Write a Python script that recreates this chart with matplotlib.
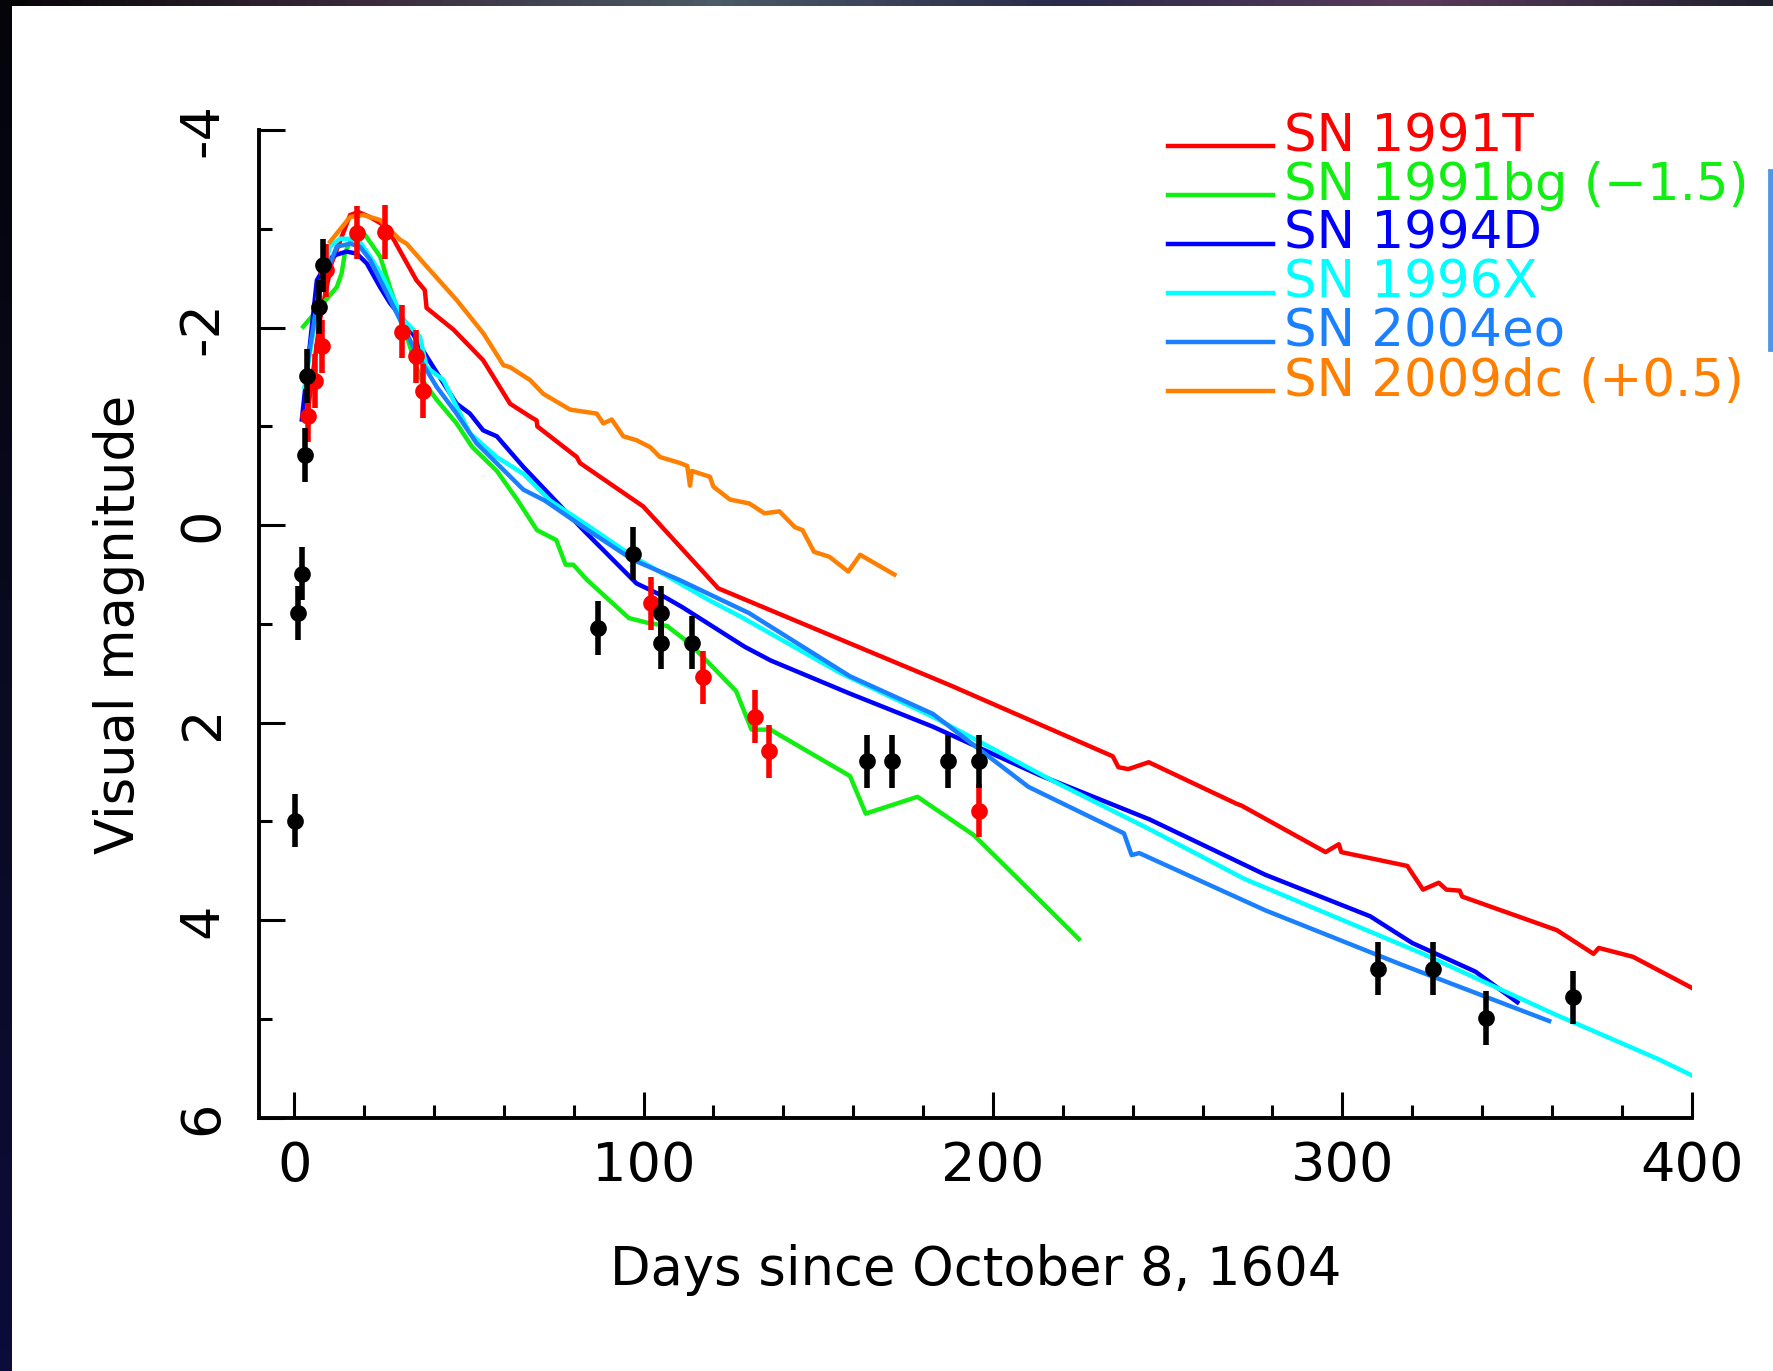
import matplotlib

matplotlib.use("Agg")
import matplotlib.pyplot as plt
import numpy as np
from matplotlib.legend_handler import HandlerLine2D
from matplotlib.patches import Rectangle
from matplotlib.ticker import MultipleLocator

plt.rcParams["axes.unicode_minus"] = False

# template light curves (days since Oct 8 1604, visual magnitude)
sn1991t_day = [3.6, 7.4, 10.7, 16.0, 18.4, 21.7, 26.5, 31.2, 35.0, 37.4, 37.9, 45.6, 54.1,
               61.8, 67.5, 69.4, 69.6, 80.9, 81.8, 99.9, 121.4, 187.7, 234.3, 235.9, 238.7,
               244.6, 269.7, 271.2, 295.2, 299.0, 299.7, 318.6, 323.1, 327.6, 329.8, 333.6,
               334.3, 361.4, 371.9, 373.4, 383.2, 399.8]
sn1991t_mag = [-1.07, -2.08, -2.65, -3.14, -3.17, -3.12, -3.02, -2.72, -2.48, -2.38, -2.20,
               -1.98, -1.67, -1.23, -1.10, -1.06, -1.00, -0.69, -0.63, -0.19, 0.64, 1.62, 2.34,
               2.45, 2.47, 2.40, 2.82, 2.84, 3.31, 3.23, 3.31, 3.45, 3.69, 3.62, 3.69, 3.70,
               3.76, 4.10, 4.34, 4.28, 4.37, 4.68]

sn1991bg_day = [2.6, 7.4, 12.2, 13.6, 14.5, 16.0, 18.8, 20.3, 24.6, 27.4, 31.3, 36.0, 40.8,
                46.5, 51.0, 58.0, 64.0, 69.5, 75.0, 77.7, 79.9, 83.7, 95.8, 101.3, 106.7,
                113.3, 126.5, 130.9, 136.3, 159.1, 163.6, 178.4, 194.6, 224.6]
sn1991bg_mag = [-2.01, -2.21, -2.41, -2.55, -2.75, -2.87, -2.96, -2.94, -2.72, -2.41, -2.01,
                -1.50, -1.27, -1.03, -0.79, -0.55, -0.25, 0.05, 0.15, 0.40, 0.40, 0.55, 0.94,
                0.99, 1.02, 1.20, 1.68, 2.07, 2.07, 2.54, 2.92, 2.75, 3.14, 4.19]

sn1994d_day = [2.2, 6.5, 10.2, 12.2, 15.0, 17.9, 20.8, 24.6, 27.4, 32.2, 37.9, 42.7, 46.5,
               50.3, 54.1, 58.0, 65.6, 82.8, 98.0, 105.7, 111.1, 128.9, 136.4, 158.7, 182.8,
               213.3, 244.9, 278.0, 308.0, 320.0, 338.1, 350.1]
sn1994d_mag = [-1.07, -2.48, -2.70, -2.74, -2.77, -2.75, -2.65, -2.41, -2.25, -2.04, -1.71,
               -1.44, -1.23, -1.13, -0.96, -0.90, -0.59, 0.05, 0.59, 0.72, 0.83, 1.23, 1.37,
               1.70, 2.04, 2.53, 2.98, 3.54, 3.96, 4.23, 4.52, 4.83]

sn1996x_day = [3.0, 7.0, 10.2, 13.1, 16.0, 18.8, 21.7, 25.5, 31.2, 36.0, 37.9, 42.7, 46.5,
               50.3, 58.0, 65.6, 73.2, 84.7, 97.1, 118.8, 128.0, 156.5, 182.8, 217.8, 244.9,
               271.9, 323.1, 360.7, 390.7, 400.0]
sn1996x_mag = [-1.40, -2.30, -2.82, -2.90, -2.90, -2.87, -2.72, -2.51, -2.08, -1.91, -1.60,
               -1.47, -1.20, -0.93, -0.69, -0.52, -0.25, 0.02, 0.32, 0.76, 0.93, 1.50, 1.94,
               2.60, 3.08, 3.58, 4.34, 4.95, 5.41, 5.57]

sn2004eo_day = [3.1, 7.0, 12.2, 16.0, 18.8, 21.7, 26.5, 30.3, 35.0, 40.8, 46.5, 52.2, 59.9,
                65.6, 71.7, 82.8, 96.9, 110.0, 130.2, 159.1, 182.8, 210.2, 237.5, 239.7,
                241.9, 278.0, 317.0, 359.2]
sn2004eo_mag = [-1.47, -2.35, -2.82, -2.85, -2.82, -2.69, -2.35, -2.08, -1.74, -1.40, -1.13,
                -0.83, -0.56, -0.36, -0.25, 0.02, 0.35, 0.55, 0.89, 1.53, 1.91, 2.65, 3.12,
                3.34, 3.32, 3.90, 4.45, 5.02]

sn2009dc_day = [10.3, 16.0, 19.8, 24.6, 30.3, 32.2, 37.9, 46.5, 54.2, 59.9, 61.8, 67.5, 71.3,
                79.0, 86.6, 88.5, 90.9, 94.2, 98.0, 101.9, 104.7, 110.4, 112.5, 113.3, 113.8,
                119.0, 120.0, 124.7, 130.3, 134.6, 138.9, 143.3, 145.5, 148.8, 153.2, 158.6,
                162.0, 171.8]
sn2009dc_mag = [-2.87, -3.12, -3.14, -3.09, -2.89, -2.85, -2.62, -2.28, -1.94, -1.62, -1.60,
                -1.47, -1.33, -1.17, -1.13, -1.03, -1.07, -0.90, -0.86, -0.79, -0.69, -0.63,
                -0.60, -0.40, -0.55, -0.49, -0.39, -0.26, -0.22, -0.12, -0.14, 0.02, 0.05,
                0.27, 0.32, 0.47, 0.30, 0.50]

# historical observations of Kepler's supernova
black_day = [0.2, 1.1, 2.2, 3.1, 3.6, 7.2, 8.4, 87.0, 96.9, 104.9, 104.9, 114.0, 163.9,
             171.0, 187.1, 196.1, 310.1, 326.0, 341.1, 366.1]
black_mag = [2.99, 0.89, 0.49, -0.71, -1.51, -2.21, -2.63, 1.04, 0.29, 0.89, 1.19, 1.19,
             2.39, 2.39, 2.39, 2.39, 4.49, 4.49, 4.99, 4.78]
red_day = [4.0, 6.1, 8.0, 9.1, 18.1, 26.1, 31.0, 35.0, 36.9, 102.1, 116.9, 131.9, 136.0, 196.1]
red_mag = [-1.11, -1.46, -1.81, -2.58, -2.96, -2.97, -1.96, -1.71, -1.36, 0.79, 1.54, 1.94,
           2.29, 2.89]
mag_err = 0.27

curves = [
    (sn1991t_day, sn1991t_mag, "#ff0000", "SN 1991T"),
    (sn1991bg_day, sn1991bg_mag, "#11ee11", "SN 1991bg (\u22121.5)"),
    (sn1994d_day, sn1994d_mag, "#0000ff", "SN 1994D"),
    (sn1996x_day, sn1996x_mag, "#00ffff", "SN 1996X"),
    (sn2004eo_day, sn2004eo_mag, "#1a80ff", "SN 2004eo"),
    (sn2009dc_day, sn2009dc_mag, "#ff8000", "SN 2009dc (+0.5)"),
]


class BaselineLine(HandlerLine2D):
    """Legend line drawn at the text baseline instead of mid-height."""

    def create_artists(self, legend, orig_handle, xdescent, ydescent, width, height,
                       fontsize, trans):
        return super().create_artists(legend, orig_handle, xdescent,
                                      ydescent + 0.5 * fontsize, width, height,
                                      fontsize, trans)


W, H = 1774, 1371
fig = plt.figure(figsize=(W / 200, H / 200), dpi=200)
fig.patch.set_facecolor("white")

# screenshot frame bits (dark slide border)
left_band = fig.add_axes([0, 0, 12 / W, 1])
left_band.imshow(np.linspace(0, 1, 64).reshape(-1, 1), aspect="auto",
                 cmap=matplotlib.colors.LinearSegmentedColormap.from_list(
                     "lb", ["#04040a", "#0a0a22", "#0c0c3a"]), extent=[0, 1, 0, 1])
left_band.axis("off")
top_band = fig.add_axes([0, 1 - 6 / H, 1, 6 / H])
top_band.imshow(np.linspace(0, 1, 128).reshape(1, -1), aspect="auto",
                cmap=matplotlib.colors.LinearSegmentedColormap.from_list(
                    "tb", ["#050505", "#3a2a3a", "#4a5a66", "#2a2a4a", "#5a3a5a", "#202030"]),
                extent=[0, 1, 0, 1])
top_band.axis("off")
fig.patches.append(Rectangle((1769 / W, 1 - 350 / H), 5 / W, 180 / H,
                             transform=fig.transFigure, color="#4f95e8", zorder=5))

ax = fig.add_axes([259.2 / W, (H - 1117.8) / H, 1432.5 / W, 987.7 / H])

for d, m, c, lab in curves:
    ax.plot(d, m, color=c, lw=1.6, label=lab, zorder=2)

ax.errorbar(black_day, black_mag, yerr=mag_err, fmt="o", color="black", ms=5,
            elinewidth=2, capsize=0, zorder=4)
ax.errorbar(red_day, red_mag, yerr=mag_err, fmt="o", color="#ff0000", ms=5,
            elinewidth=2, capsize=0, zorder=3)

ax.set_xlim(-10, 400)
ax.set_ylim(6, -4)
for s in ("top", "right"):
    ax.spines[s].set_visible(False)
for s in ("left", "bottom"):
    ax.spines[s].set_linewidth(1.4)

ax.xaxis.set_major_locator(MultipleLocator(100))
ax.xaxis.set_minor_locator(MultipleLocator(20))
ax.yaxis.set_major_locator(MultipleLocator(2))
ax.yaxis.set_minor_locator(MultipleLocator(1))
ax.tick_params(which="both", direction="in", width=1.1, labelsize=19.5)
ax.tick_params(which="major", length=9.5)
ax.tick_params(which="minor", length=4.8)
ax.tick_params(axis="x", pad=8)
ax.tick_params(axis="y", pad=11, labelrotation=90)
for t in ax.get_yticklabels():
    t.set_va("center")

ax.set_xlabel("Days since October 8, 1604", fontsize=19)
ax.set_ylabel("Visual magnitude", fontsize=19)
ax.xaxis.set_label_coords(0.5, -0.128)
ax.yaxis.set_label_coords(-0.080, 0.5)

ax.legend(loc="upper left", bbox_to_anchor=(1168 / W, 1 - 112 / H),
          bbox_transform=fig.transFigure, frameon=False, fontsize=18.5,
          handlelength=2.05, handletextpad=0.2, labelspacing=-0.02, borderpad=0,
          borderaxespad=0, labelcolor="linecolor",
          handler_map={matplotlib.lines.Line2D: BaselineLine()})

fig.savefig("out.png", dpi=200)
